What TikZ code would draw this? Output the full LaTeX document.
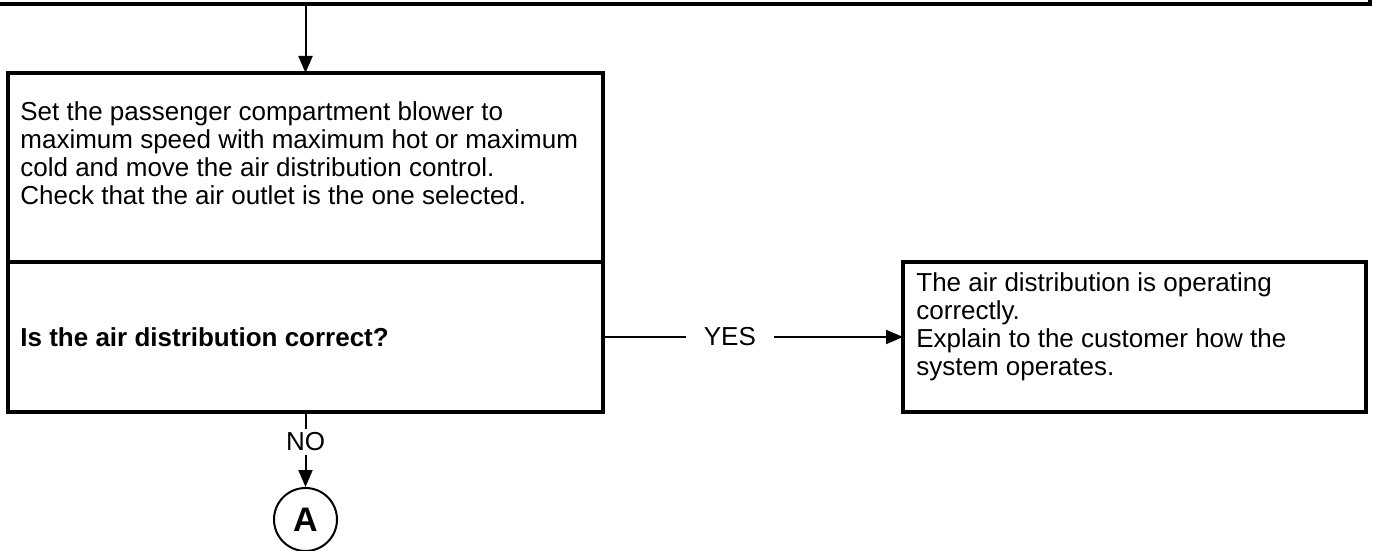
\documentclass[tikz,border=0pt]{standalone}
\usepackage{fontspec}
\setmainfont{Liberation Sans}
\usetikzlibrary{positioning,arrows.meta}

\tikzset{
  box/.style={draw, rectangle, line width=1.7pt, inner sep=0pt, outer sep=0pt},
  txt/.style={align=left, inner sep=0pt, font=\fontsize{13pt}{14pt}\selectfont},
  boldtxt/.style={txt, font=\fontsize{13pt}{14pt}\selectfont\bfseries},
  flow/.style={line width=1pt, -{Triangle[length=8.5pt,width=7pt]}},
  answer/.style={fill=white, inner xsep=9pt, inner ysep=2pt, font=\fontsize{13pt}{14pt}\selectfont},
}

\begin{document}
\begin{tikzpicture}[x=0.5pt, y=-0.5pt]
\useasboundingbox (0,0) rectangle (1373,551);

    % boxes
    \node[box, minimum width=700pt, minimum height=30pt, anchor=south east] (prev) at (1370,4) {};
    \node[box, minimum width=297.5pt, minimum height=94.5pt, anchor=north west] (step) at (8,73) {};
    \node[box, minimum width=297.5pt, minimum height=75pt, below=0pt of step] (question) {};
    \node[box, minimum width=231.5pt, minimum height=75pt, right=150pt of question] (result) {};
    \node[circle, draw, line width=1pt, minimum size=31.5pt, inner sep=0pt, below=37.5pt of question,
          font=\fontsize{17pt}{17pt}\selectfont\bfseries] (A) {A};

    % texts
    \node[txt, anchor=north west] (steptxt) at ([shift={(12,28)}]step.north west)
        {Set the passenger compartment blower to\\
         maximum speed with maximum hot or maximum\\
         cold and move the air distribution control.\\
         Check that the air outlet is the one selected.};
    \node[boldtxt, anchor=west] (asktxt) at ([xshift=6pt]question.west) {Is the air distribution correct?};
    \node[txt, anchor=north west] (resulttxt) at ([shift={(13,10)}]result.north west)
        {The air distribution is operating\\
         correctly.\\
         Explain to the customer how the\\
         system operates.};

    % connectors
    \draw[flow] (prev.south -| step.north) -- (step.north);
    \draw[flow] (question.east) -- node[answer, pos=0.423] (yes) {YES} (result.west);
    \draw[flow] (question.south) -- node[answer, inner xsep=1pt, pos=0.4] (no) {NO} (A.north);

\end{tikzpicture}
\end{document}
